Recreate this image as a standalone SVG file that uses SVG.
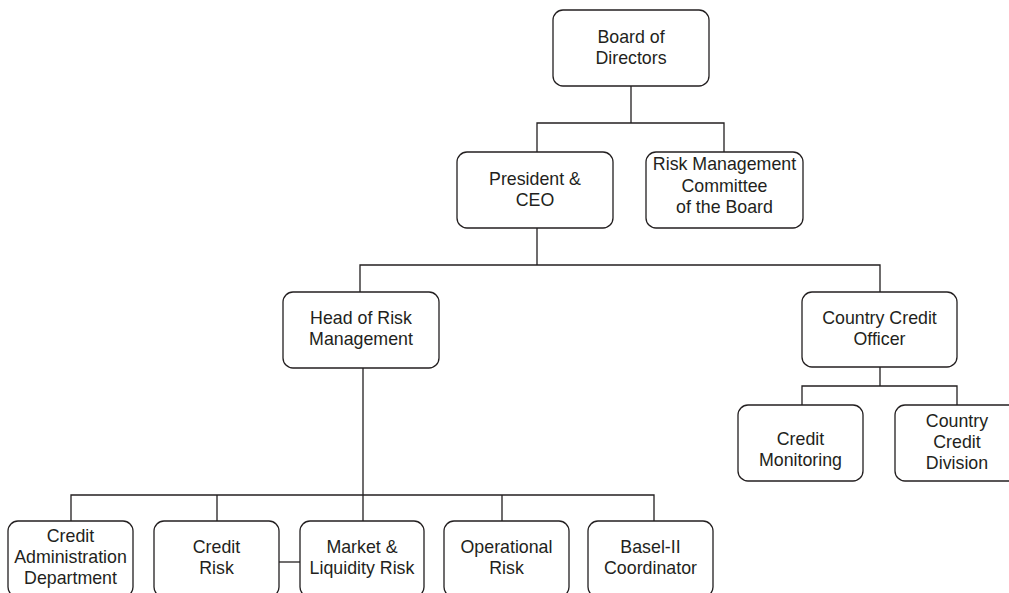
<svg xmlns="http://www.w3.org/2000/svg" width="1009" height="593" viewBox="0 0 1009 593">
<style>
.box{fill:#fff;stroke:#231f20;stroke-width:1.3}
.ln{fill:none;stroke:#231f20;stroke-width:1.3}
text{font-family:"Liberation Sans",Arial,sans-serif;font-size:17.8px;fill:#231f20;text-anchor:middle}
</style>
<rect width="1009" height="593" fill="#fff"/>
<g id="connectors">
<path class="ln" d="M631 86V123M537 152V123H724V152"/>
<path class="ln" d="M537 228V265M360 292V265H880V292"/>
<path class="ln" d="M880 367V386M802 405V386H957V405"/>
<path class="ln" d="M363 368V521M71 521V495H654V521M217 495V521M502 495V521"/>
<path class="ln" d="M279 562H300"/>
</g>
<g id="board"><rect class="box" x="553" y="10" width="156" height="76" rx="10"/><text x="631" y="43">Board of</text><text x="631" y="64">Directors</text></g>
<g id="president"><rect class="box" x="457" y="152" width="156" height="76" rx="10"/><text x="535" y="185">President &amp;</text><text x="535" y="206">CEO</text></g>
<g id="rmc"><rect class="box" x="646" y="152" width="157" height="76" rx="10"/><text x="724.5" y="170">Risk Management</text><text x="724.5" y="192">Committee</text><text x="724.5" y="213">of the Board</text></g>
<g id="head"><rect class="box" x="283" y="292" width="156" height="76" rx="10"/><text x="361" y="324">Head of Risk</text><text x="361" y="345">Management</text></g>
<g id="cco"><rect class="box" x="802" y="292" width="155" height="75" rx="10"/><text x="879.5" y="324">Country Credit</text><text x="879.5" y="345">Officer</text></g>
<g id="monitoring"><rect class="box" x="738" y="405" width="125" height="76" rx="10"/><text x="800.5" y="445">Credit</text><text x="800.5" y="466">Monitoring</text></g>
<g id="ccd"><rect class="box" x="895" y="405" width="125" height="76" rx="10"/><text x="957" y="427">Country</text><text x="957" y="448">Credit</text><text x="957" y="469">Division</text></g>
<g id="admin"><rect class="box" x="8" y="521" width="125" height="76" rx="10"/><text x="70.5" y="542">Credit</text><text x="70.5" y="563">Administration</text><text x="70.5" y="584">Department</text></g>
<g id="creditrisk"><rect class="box" x="154" y="521" width="125" height="76" rx="10"/><text x="216.5" y="553">Credit</text><text x="216.5" y="574">Risk</text></g>
<g id="market"><rect class="box" x="300" y="521" width="124" height="76" rx="10"/><text x="362" y="553">Market &amp;</text><text x="362" y="574">Liquidity Risk</text></g>
<g id="operational"><rect class="box" x="444" y="521" width="125" height="76" rx="10"/><text x="506.5" y="553">Operational</text><text x="506.5" y="574">Risk</text></g>
<g id="basel"><rect class="box" x="588" y="521" width="125" height="76" rx="10"/><text x="650.5" y="553">Basel-II</text><text x="650.5" y="574">Coordinator</text></g>
</svg>
